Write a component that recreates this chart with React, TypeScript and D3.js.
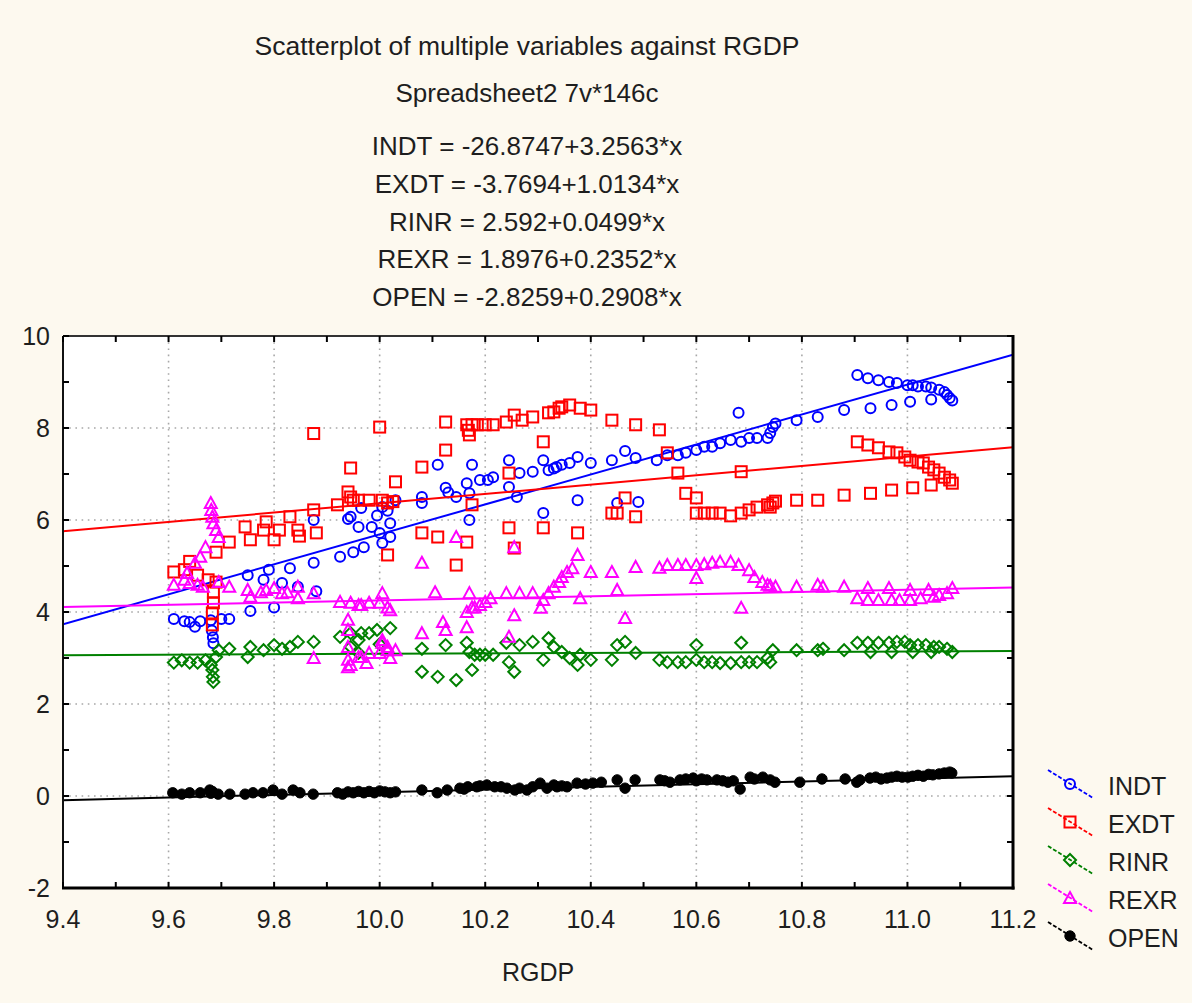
import * as d3 from "d3";

// regression coefficients printed on the chart
const seriesNames = ["INDT", "EXDT", "RINR", "REXR", "OPEN"];
const seriesColors = ["#0000ff", "#ff0000", "#008000", "#ff00ff", "#000000"];
const seriesShapes = ["circle", "square", "diamond", "triangle", "dot"];
const intercepts = [-26.8747, -3.7694, 2.592, 1.8976, -2.8259];
const slopes = [3.2563, 1.0134, 0.0499, 0.2352, 0.2908];

const xTicks = [9.4, 9.6, 9.8, 10.0, 10.2, 10.4, 10.6, 10.8, 11.0, 11.2];
const yTicks = [-2, 0, 2, 4, 6, 8, 10];

const indtPoints: [number, number][] = [
  [9.61, 3.85], [9.63, 3.8], [9.64, 3.78], [9.65, 3.68], [9.66, 3.8], [9.68, 3.82], [9.682, 3.6], [9.684, 3.45],
  [9.685, 3.32], [9.7, 3.85], [9.715, 3.85], [9.755, 4.02], [9.8, 4.1], [9.75, 4.8], [9.78, 4.7], [9.79, 4.92],
  [9.815, 4.63], [9.83, 4.95], [9.845, 4.55], [9.875, 5.07], [9.88, 4.45], [9.875, 6.0], [9.925, 5.2], [9.95, 5.3],
  [9.97, 5.41], [9.945, 6.07], [9.94, 6.02], [9.96, 5.85], [9.985, 5.85], [10.0, 5.72], [10.005, 5.5], [9.965, 6.26],
  [9.995, 6.1], [10.005, 6.28], [10.02, 5.93], [10.02, 5.63], [10.03, 6.43], [10.015, 6.2], [10.08, 6.5], [10.08, 6.37],
  [10.11, 7.2], [10.125, 6.7], [10.13, 6.6], [10.145, 6.5], [10.165, 6.8], [10.17, 6.58], [10.175, 7.2], [10.17, 6.0],
  [10.19, 6.87], [10.205, 6.87], [10.215, 6.93], [10.245, 7.3], [10.245, 6.72], [10.26, 6.5], [10.265, 7.02], [10.29, 7.05],
  [10.31, 6.15], [10.31, 7.3], [10.32, 7.08], [10.33, 7.12], [10.335, 7.15], [10.345, 7.2], [10.36, 7.24], [10.375, 7.37],
  [10.375, 6.43], [10.4, 7.24], [10.44, 7.3], [10.465, 7.5], [10.485, 7.35], [10.45, 6.37], [10.49, 6.39], [10.525, 7.3],
  [10.545, 7.41], [10.565, 7.41], [10.58, 7.46], [10.6, 7.52], [10.615, 7.59], [10.63, 7.59], [10.645, 7.67], [10.665, 7.74],
  [10.685, 7.7], [10.68, 8.33], [10.7, 7.78], [10.715, 7.78], [10.735, 7.78], [10.74, 7.89], [10.745, 8.02], [10.75, 8.1],
  [10.79, 8.17], [10.83, 8.24], [10.88, 8.39], [10.93, 8.43], [10.97, 8.5], [11.005, 8.57], [11.045, 8.62],
  [10.905, 9.15], [10.925, 9.08], [10.945, 9.04], [10.965, 9.0], [10.98, 8.98], [11.0, 8.93], [11.01, 8.93], [11.02, 8.9],
  [11.035, 8.9], [11.045, 8.88], [11.06, 8.83], [11.07, 8.78], [11.075, 8.72], [11.08, 8.65], [11.085, 8.6],
];

const exdtPoints: [number, number][] = [
  [9.61, 4.87], [9.63, 4.92], [9.64, 5.1], [9.655, 4.8], [9.675, 4.7], [9.69, 4.65], [9.685, 4.43], [9.685, 4.2],
  [9.683, 3.98], [9.683, 3.72], [9.69, 5.3], [9.715, 5.52], [9.745, 5.85], [9.755, 5.57], [9.785, 5.96], [9.78, 5.78],
  [9.8, 5.57], [9.81, 5.78], [9.83, 6.07], [9.845, 5.78], [9.848, 5.65], [9.875, 6.22], [9.88, 5.72], [9.875, 7.88],
  [10.0, 8.02], [9.945, 7.13], [9.92, 6.33], [9.94, 6.61], [9.945, 6.5], [9.95, 6.43], [9.96, 6.43], [9.98, 6.43],
  [10.005, 6.43], [10.015, 5.24], [10.015, 6.37], [10.025, 6.4], [10.03, 6.83], [10.08, 7.15], [10.08, 5.72], [10.11, 5.63],
  [10.125, 7.52], [10.125, 8.13], [10.145, 5.02], [10.165, 5.52], [10.175, 6.33], [10.165, 8.07], [10.168, 7.95], [10.17, 7.85],
  [10.175, 8.07], [10.185, 8.07], [10.2, 8.07], [10.215, 8.07], [10.24, 8.13], [10.245, 7.02], [10.245, 5.83], [10.255, 5.39],
  [10.255, 8.28], [10.27, 8.17], [10.29, 8.24], [10.31, 7.7], [10.31, 5.83], [10.32, 8.33], [10.33, 8.35], [10.34, 8.43],
  [10.345, 8.46], [10.36, 8.5], [10.38, 8.43], [10.4, 8.39], [10.375, 5.72], [10.44, 8.17], [10.44, 6.15], [10.45, 6.15],
  [10.465, 6.48], [10.485, 6.07], [10.485, 8.07], [10.53, 7.96], [10.545, 7.46], [10.565, 7.02], [10.58, 6.58], [10.6, 6.48],
  [10.6, 6.15], [10.615, 6.15], [10.63, 6.15], [10.645, 6.15], [10.665, 6.09], [10.685, 6.15], [10.7, 6.22], [10.715, 6.28],
  [10.735, 6.33], [10.74, 6.28], [10.745, 6.37], [10.75, 6.41], [10.685, 7.05], [10.79, 6.43], [10.83, 6.43], [10.88, 6.54],
  [10.93, 6.58], [10.97, 6.65], [11.01, 6.7], [11.045, 6.76], [10.905, 7.7], [10.925, 7.63], [10.945, 7.57], [10.965, 7.48],
  [10.98, 7.46], [10.995, 7.37], [11.005, 7.3], [11.02, 7.26], [11.03, 7.24], [11.04, 7.15], [11.05, 7.09], [11.06, 7.02],
  [11.07, 6.93], [11.08, 6.87], [11.085, 6.8],
];

const rinrPoints: [number, number][] = [
  [9.61, 2.9], [9.625, 2.95], [9.64, 2.9], [9.655, 2.9], [9.67, 2.95], [9.68, 2.85], [9.683, 2.74], [9.684, 2.59],
  [9.685, 2.48], [9.69, 3.02], [9.695, 3.17], [9.715, 3.2], [9.75, 3.02], [9.755, 3.24], [9.78, 3.17], [9.8, 3.28],
  [9.815, 3.2], [9.83, 3.24], [9.845, 3.35], [9.875, 3.35], [9.925, 3.46], [9.945, 3.54], [9.96, 3.39], [9.965, 3.54],
  [9.98, 3.54], [9.995, 3.61], [9.945, 3.24], [9.96, 3.11], [10.02, 3.65], [10.0, 3.3], [10.08, 3.2], [10.08, 2.7],
  [10.11, 2.59], [10.125, 3.28], [10.145, 2.52], [10.165, 3.33], [10.17, 3.13], [10.175, 2.74], [10.18, 3.07], [10.19, 3.07],
  [10.2, 3.07], [10.215, 3.07], [10.24, 3.33], [10.245, 2.91], [10.255, 2.7], [10.265, 3.28], [10.29, 3.35], [10.31, 2.96],
  [10.32, 3.43], [10.33, 3.24], [10.345, 3.13], [10.36, 3.0], [10.375, 2.85], [10.38, 3.07], [10.4, 2.96], [10.44, 2.96],
  [10.45, 3.28], [10.465, 3.35], [10.485, 3.11], [10.53, 2.96], [10.545, 2.91], [10.565, 2.91], [10.58, 2.91], [10.6, 3.28],
  [10.6, 2.96], [10.615, 2.91], [10.63, 2.91], [10.645, 2.89], [10.665, 2.89], [10.685, 3.33], [10.685, 2.91], [10.7, 2.91],
  [10.715, 2.91], [10.735, 3.0], [10.74, 2.91], [10.745, 3.17], [10.79, 3.17], [10.83, 3.17], [10.84, 3.2], [10.88, 3.17],
  [10.905, 3.33], [10.93, 3.13], [10.925, 3.33], [10.945, 3.33], [10.965, 3.33], [10.97, 3.13], [10.98, 3.35], [10.995, 3.35],
  [11.005, 3.28], [11.01, 3.13], [11.02, 3.28], [11.035, 3.28], [11.045, 3.13], [11.05, 3.24], [11.06, 3.24], [11.075, 3.2],
  [11.085, 3.13],
];

const rexrPoints: [number, number][] = [
  [9.61, 4.59], [9.63, 4.7], [9.64, 4.63], [9.655, 4.59], [9.665, 4.55], [9.635, 4.85], [9.65, 5.07], [9.66, 5.2],
  [9.67, 5.41], [9.68, 6.37], [9.681, 6.22], [9.683, 6.07], [9.685, 5.93], [9.69, 5.78], [9.695, 5.63], [9.695, 4.65],
  [9.715, 4.55], [9.75, 4.48], [9.755, 4.33], [9.775, 4.43], [9.785, 4.48], [9.8, 4.52], [9.815, 4.41], [9.825, 4.43],
  [9.845, 4.55], [9.845, 4.3], [9.875, 4.41], [9.875, 3.0], [9.925, 4.22], [9.945, 4.2], [9.96, 4.15], [9.965, 4.15],
  [9.98, 4.2], [10.0, 4.2], [9.94, 3.83], [9.94, 3.61], [9.94, 3.24], [9.94, 2.96], [9.94, 2.8], [9.96, 3.02],
  [9.965, 3.02], [9.98, 3.11], [10.0, 3.11], [10.005, 3.33], [10.015, 3.24], [9.945, 2.85], [9.975, 2.89], [10.005, 4.41],
  [10.015, 4.1], [10.02, 4.04], [10.005, 3.39], [10.015, 3.17], [10.02, 3.0], [10.03, 3.17], [10.08, 5.07], [10.08, 3.54],
  [10.105, 4.43], [10.12, 3.78], [10.125, 3.61], [10.145, 5.63], [10.165, 3.67], [10.165, 4.0], [10.17, 4.41], [10.175, 4.1],
  [10.18, 4.1], [10.19, 4.15], [10.2, 4.22], [10.21, 4.3], [10.24, 4.41], [10.245, 3.46], [10.255, 5.41], [10.255, 3.93],
  [10.265, 4.41], [10.29, 4.41], [10.305, 4.09], [10.31, 4.26], [10.32, 4.41], [10.33, 4.55], [10.34, 4.65], [10.345, 4.76],
  [10.355, 4.87], [10.365, 4.95], [10.375, 5.24], [10.38, 4.3], [10.4, 4.87], [10.44, 4.87], [10.45, 4.48], [10.465, 3.87],
  [10.485, 4.98], [10.53, 4.96], [10.545, 5.02], [10.565, 5.02], [10.58, 5.02], [10.6, 5.02], [10.6, 4.74], [10.615, 5.04],
  [10.63, 5.07], [10.645, 5.09], [10.665, 5.09], [10.685, 4.09], [10.68, 5.02], [10.7, 4.91], [10.71, 4.76], [10.725, 4.65],
  [10.735, 4.59], [10.74, 4.57], [10.75, 4.55], [10.79, 4.55], [10.83, 4.59], [10.84, 4.55], [10.88, 4.55], [10.905, 4.3],
  [10.925, 4.52], [10.925, 4.26], [10.945, 4.26], [10.965, 4.52], [10.97, 4.26], [10.985, 4.26], [11.005, 4.48], [11.005, 4.26],
  [11.025, 4.3], [11.04, 4.48], [11.05, 4.33], [11.06, 4.37], [11.075, 4.41], [11.085, 4.52],
];

const openPoints: [number, number][] = [
  [9.608, 0.07], [9.625, 0.04], [9.64, 0.07], [9.66, 0.07], [9.678, 0.13], [9.68, 0.06], [9.683, 0.1], [9.694, 0.04],
  [9.716, 0.04], [9.745, 0.04], [9.76, 0.07], [9.779, 0.07], [9.798, 0.13], [9.815, 0.04], [9.836, 0.13], [9.849, 0.07],
  [9.874, 0.04], [9.92, 0.07], [9.93, 0.04], [9.94, 0.09], [9.95, 0.07], [9.96, 0.1], [9.97, 0.07], [9.98, 0.1],
  [9.99, 0.07], [10.0, 0.11], [10.01, 0.09], [10.02, 0.07], [10.03, 0.09], [10.08, 0.13], [10.109, 0.07], [10.128, 0.13],
  [10.152, 0.17], [10.16, 0.15], [10.167, 0.2], [10.184, 0.2], [10.19, 0.22], [10.203, 0.24], [10.218, 0.2], [10.23, 0.2],
  [10.241, 0.17], [10.256, 0.13], [10.265, 0.17], [10.279, 0.13], [10.29, 0.2], [10.304, 0.28], [10.317, 0.17], [10.33, 0.24],
  [10.336, 0.2], [10.345, 0.22], [10.355, 0.2], [10.374, 0.28], [10.39, 0.26], [10.404, 0.28], [10.42, 0.3], [10.45, 0.35],
  [10.465, 0.17], [10.484, 0.35], [10.531, 0.35], [10.54, 0.33], [10.55, 0.3], [10.569, 0.35], [10.58, 0.37], [10.594, 0.39],
  [10.6, 0.33], [10.61, 0.37], [10.62, 0.35], [10.639, 0.35], [10.65, 0.33], [10.66, 0.3], [10.67, 0.33], [10.683, 0.15],
  [10.702, 0.41], [10.71, 0.37], [10.726, 0.41], [10.74, 0.35], [10.749, 0.3], [10.796, 0.3], [10.838, 0.37], [10.882, 0.37],
  [10.904, 0.3], [10.91, 0.35], [10.929, 0.39], [10.94, 0.41], [10.95, 0.37], [10.961, 0.39], [10.97, 0.41], [10.98, 0.43],
  [10.99, 0.41], [11.001, 0.41], [11.01, 0.43], [11.02, 0.45], [11.03, 0.43], [11.04, 0.47], [11.048, 0.46], [11.06, 0.48],
  [11.07, 0.5], [11.08, 0.52], [11.084, 0.5],
];

const seriesPoints = [indtPoints, exdtPoints, rinrPoints, rexrPoints, openPoints];

const W = 1192;
const H = 1003;
const plot = { left: 63, right: 1013, top: 336, bottom: 888 };
const font = "Arial, 'Liberation Sans', sans-serif";
const textColor = "#1e1e1e";

// one marker, drawn around (cx, cy)
const Marker = ({ shape, color, cx, cy }: { shape: string; color: string; cx: number; cy: number }) => {
  const sw = 2;
  if (shape === "circle")
    return <circle cx={cx} cy={cy} r={5} fill="none" stroke={color} strokeWidth={sw} />;
  if (shape === "square")
    return <rect x={cx - 5.5} y={cy - 5.5} width={11} height={11} fill="none" stroke={color} strokeWidth={sw} />;
  if (shape === "diamond")
    return (
      <path d={`M${cx},${cy - 6}L${cx + 6},${cy}L${cx},${cy + 6}L${cx - 6},${cy}Z`}
        fill="none" stroke={color} strokeWidth={sw} />
    );
  if (shape === "triangle")
    return (
      <path d={`M${cx},${cy - 6}L${cx + 6},${cy + 5}L${cx - 6},${cy + 5}Z`}
        fill="none" stroke={color} strokeWidth={sw} />
    );
  return <circle cx={cx} cy={cy} r={5.2} fill={color} stroke={color} strokeWidth={1} />;
};

const App = () => {
  const x = d3.scaleLinear().domain([9.4, 11.2]).range([plot.left, plot.right]);
  const y = d3.scaleLinear().domain([-2, 10]).range([plot.bottom, plot.top]);

  const xMinor = d3.range(9.5, 11.2, 0.2);
  const yMinor = d3.range(-1, 10, 2);
  const fmtX = d3.format(".1f");
  const tickLen = 6;

  const fitLine = (i: number) =>
    d3.line<number>()
      .x(d => x(d))
      .y(d => y(intercepts[i] + slopes[i] * d))(x.domain());

  const equations = seriesNames.map((n, i) => `${n} = ${intercepts[i]}+${slopes[i]}*x`);
  const textCx = 527;

  return (
    <svg width={W} height={H} style={{ position: "absolute", left: 0, top: 0 }} fontFamily={font}>
      <defs>
        <clipPath id="plot-clip">
          <rect x={plot.left} y={plot.top} width={plot.right - plot.left} height={plot.bottom - plot.top} />
        </clipPath>
      </defs>
      <rect width={W} height={H} fill="#fdf9ef" />

      <text x={textCx} y={55} fontSize={26.5} textAnchor="middle" fill={textColor}>
        Scatterplot of multiple variables against RGDP
      </text>
      <text x={textCx} y={102} fontSize={26} textAnchor="middle" fill={textColor}>
        Spreadsheet2 7v*146c
      </text>
      {equations.map((e, i) => (
        <text key={e} x={textCx} y={155 + i * 37.8} fontSize={26} textAnchor="middle" fill={textColor}>{e}</text>
      ))}

      {/* plot area */}
      <rect x={plot.left} y={plot.top} width={plot.right - plot.left} height={plot.bottom - plot.top} fill="#fff" />

      {/* dotted grid */}
      <g stroke="#a8a8a8" strokeWidth={1.6} strokeDasharray="1.6 4.6">
        {xTicks.slice(1, -1).map(t => (
          <line key={"gx" + t} x1={x(t)} x2={x(t)} y1={plot.top} y2={plot.bottom} />
        ))}
        {yTicks.slice(1, -1).map(t => (
          <line key={"gy" + t} x1={plot.left} x2={plot.right} y1={y(t)} y2={y(t)} />
        ))}
      </g>

      {/* series: points then fitted line */}
      <g clipPath="url(#plot-clip)">
        {seriesPoints.map((pts, i) => (
          <g key={seriesNames[i]}>
            {pts.map((p, j) => (
              <Marker key={j} shape={seriesShapes[i]} color={seriesColors[i]} cx={x(p[0])} cy={y(p[1])} />
            ))}
            <path d={fitLine(i) || ""} fill="none" stroke={seriesColors[i]} strokeWidth={2} />
          </g>
        ))}
      </g>

      {/* frame */}
      <line x1={plot.left} x2={plot.right} y1={plot.top} y2={plot.top} stroke="#333" strokeWidth={2} />
      <line x1={plot.left} x2={plot.left} y1={plot.top} y2={plot.bottom} stroke="#111" strokeWidth={2} />
      <line x1={plot.right} x2={plot.right} y1={plot.top - 1} y2={plot.bottom + 1.5} stroke="#000" strokeWidth={3} />
      <line x1={plot.left - 1} x2={plot.right + 1.5} y1={plot.bottom} y2={plot.bottom} stroke="#000" strokeWidth={3} />

      {/* inward ticks */}
      <g stroke="#000" strokeWidth={2}>
        {[...xTicks, ...xMinor].map(t => (
          <g key={"tx" + t}>
            <line x1={x(t)} x2={x(t)} y1={plot.top} y2={plot.top + tickLen} />
            <line x1={x(t)} x2={x(t)} y1={plot.bottom} y2={plot.bottom - tickLen} />
          </g>
        ))}
        {[...yTicks, ...yMinor].map(t => (
          <g key={"ty" + t}>
            <line x1={plot.left} x2={plot.left + tickLen} y1={y(t)} y2={y(t)} />
            <line x1={plot.right} x2={plot.right - tickLen} y1={y(t)} y2={y(t)} />
          </g>
        ))}
      </g>

      {/* tick labels */}
      {xTicks.map(t => (
        <text key={"lx" + t} x={x(t)} y={928} fontSize={25} textAnchor="middle" fill={textColor}>{fmtX(t)}</text>
      ))}
      {yTicks.map(t => (
        <text key={"ly" + t} x={50} y={y(t) + 9} fontSize={25} textAnchor="end" fill={textColor}>{t}</text>
      ))}
      <text x={(plot.left + plot.right) / 2} y={981} fontSize={25} textAnchor="middle" fill={textColor}>RGDP</text>

      {/* legend */}
      {seriesNames.map((n, i) => {
        const by = 795 + i * 38;
        return (
          <g key={"lg" + n}>
            <line x1={1048} y1={by - 25} x2={1093} y2={by + 3} stroke={seriesColors[i]} strokeWidth={1.8} strokeDasharray="4 2" />
            <Marker shape={seriesShapes[i]} color={seriesColors[i]} cx={1070} cy={by - 11} />
            <text x={1108} y={by} fontSize={25} fill={textColor}>{n}</text>
          </g>
        );
      })}
    </svg>
  );
};

export default App;
